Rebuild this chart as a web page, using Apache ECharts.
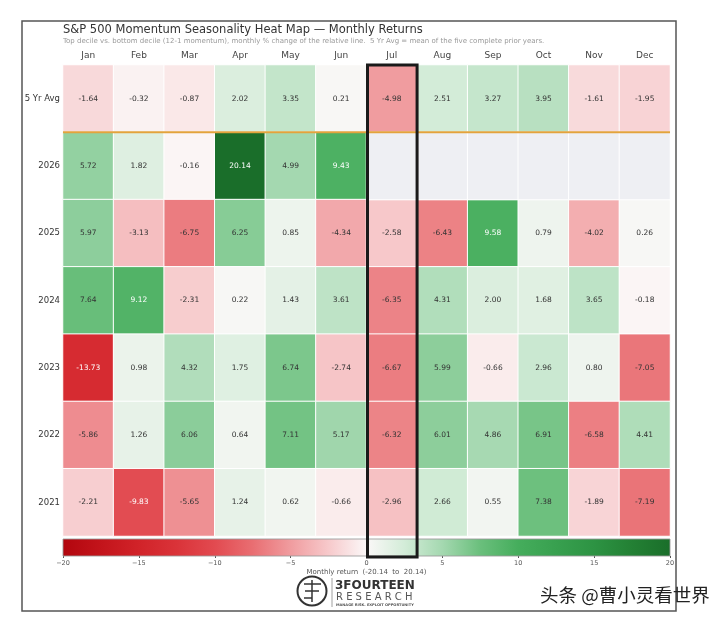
<!DOCTYPE html>
<html><head><meta charset="utf-8">
<script src="https://cdn.jsdelivr.net/npm/echarts@6/dist/echarts.min.js"></script>
<style>html,body{margin:0;padding:0;background:#fff}#c{width:728px;height:622px}</style>
</head><body><div id="c"></div>
<script>
const months = ['Jan','Feb','Mar','Apr','May','Jun','Jul','Aug','Sep','Oct','Nov','Dec'];
const rows = ['5 Yr Avg','2026','2025','2024','2023','2022','2021'];
const avg5  = [-1.64,-0.32,-0.87,2.02,3.35,0.21,-4.98,2.51,3.27,3.95,-1.61,-1.95];
const y2026 = [5.72,1.82,-0.16,20.14,4.99,9.43,null,null,null,null,null,null];
const y2025 = [5.97,-3.13,-6.75,6.25,0.85,-4.34,-2.58,-6.43,9.58,0.79,-4.02,0.26];
const y2024 = [7.64,9.12,-2.31,0.22,1.43,3.61,-6.35,4.31,2.00,1.68,3.65,-0.18];
const y2023 = [-13.73,0.98,4.32,1.75,6.74,-2.74,-6.67,5.99,-0.66,2.96,0.80,-7.05];
const y2022 = [-5.86,1.26,6.06,0.64,7.11,5.17,-6.32,6.01,4.86,6.91,-6.58,4.41];
const y2021 = [-2.21,-9.83,-5.65,1.24,0.62,-0.66,-2.96,2.66,0.55,7.38,-1.89,-7.19];
const colorTicks = [-20,-15,-10,-5,0,5,10,15,20];
const rangeMin = -20, rangeMax = 20;
const palette = ['#b2060e','#c3141b','#d12329','#da3339','#e24a50','#e96e72','#f09c9f','#f7c9cb','#fbf8f8',
                 '#d3ecd8','#a4d8b0','#6abf7c','#45ad5c','#38a04f','#2d9343','#238034','#1a6e2a'];

const table = [avg5,y2026,y2025,y2024,y2023,y2022,y2021];
const cells = [], empty = [];
table.forEach((arr, r) => arr.forEach((v, c) => {
  if (v === null) empty.push([c, r, 0]);
  else cells.push({value:[c, r, v], label:{color: Math.abs(v) >= 9 ? '#ffffff' : '#333333'}});
}));

const FONT = 'DejaVu Sans';
const chart = echarts.init(document.getElementById('c'), null, {renderer:'canvas'});
chart.setOption({
  backgroundColor:'#fff',
  textStyle:{fontFamily:FONT},
  animation:false,
  grid:[
    {left:63, top:65, width:607, height:471},
    {left:63, top:539, width:607, height:17}
  ],
  xAxis:[
    {type:'category', data:months, position:'top', gridIndex:0,
     axisLine:{show:false}, axisTick:{show:false}, splitLine:{show:false},
     axisLabel:{fontSize:9, color:'#444', margin:5, fontFamily:FONT}},
    {type:'value', gridIndex:1, min:rangeMin, max:rangeMax, interval:5,
     axisLine:{show:false}, splitLine:{show:false},
     axisTick:{show:true, length:2, lineStyle:{color:'#555'}},
     axisLabel:{fontSize:6.5, color:'#555', margin:4, fontFamily:FONT,
       formatter:v => String(v).replace('-', '\u2212')},
     name:'Monthly return  (-20.14  to  20.14)', nameLocation:'middle', nameGap:13,
     nameTextStyle:{fontSize:7, color:'#555', fontFamily:FONT}}
  ],
  yAxis:[
    {type:'category', data:rows, inverse:true, gridIndex:0,
     axisLine:{show:false}, axisTick:{show:false}, splitLine:{show:false},
     axisLabel:{fontSize:8.5, color:'#333', margin:3, fontFamily:FONT}},
    {type:'value', gridIndex:1, min:0, max:1, show:false}
  ],
  visualMap:{show:false, type:'continuous', min:rangeMin, max:rangeMax, seriesIndex:0, dimension:2,
    inRange:{color:palette}},
  series:[
    {type:'heatmap', xAxisIndex:0, yAxisIndex:0, data:cells,
     itemStyle:{borderColor:'#ffffff', borderWidth:1},
     label:{show:true, fontSize:7.5, fontFamily:FONT, formatter:p => p.value[2].toFixed(2)}},
    {type:'heatmap', xAxisIndex:0, yAxisIndex:0, data:empty,
     itemStyle:{color:'#eeeff3', borderColor:'#ffffff', borderWidth:1}, label:{show:false}},
    {type:'custom', xAxisIndex:1, yAxisIndex:1, data:[[rangeMin, rangeMax]],
     renderItem:function(params, api){
       const p0 = api.coord([api.value(0), 1]);
       const p1 = api.coord([api.value(1), 0]);
       const stops = palette.map((c,i)=>({offset:i/(palette.length-1), color:c}));
       return {type:'rect', shape:{x:p0[0], y:p0[1], width:p1[0]-p0[0], height:p1[1]-p0[1]},
         style:{fill:new echarts.graphic.LinearGradient(0,0,1,0,stops), stroke:'#999', lineWidth:0.5}};
     }}
  ]
});

// overlays positioned through the axes
const xc = m => chart.convertToPixel({xAxisIndex:0}, m);
const yc = r => chart.convertToPixel({yAxisIndex:0}, r);
const bandW = xc('Feb') - xc('Jan');
const bandH = yc('2026') - yc('5 Yr Avg');
const julL = xc('Jul') - bandW/2, julR = xc('Jul') + bandW/2;
const top0 = yc('5 Yr Avg') - bandH/2;
const sepY = yc('5 Yr Avg') + bandH/2;
const leftX = xc('Jan') - bandW/2, rightX = xc('Dec') + bandW/2;
const cbBottom = chart.convertToPixel({yAxisIndex:1}, 0);

chart.setOption({graphic:[
  {type:'rect', shape:{x:22, y:21, width:654, height:590}, style:{fill:null, stroke:'#555', lineWidth:1.5}, z:-1},
  {type:'text', left:63, top:24, style:{text:'S&P 500 Momentum Seasonality Heat Map — Monthly Returns', font:'11.5px "DejaVu Sans"', fill:'#333'}},
  {type:'text', left:63, top:37.5, style:{text:'Top decile vs. bottom decile (12-1 momentum), monthly % change of the relative line.  5 Yr Avg = mean of the five complete prior years.', font:'7px "DejaVu Sans"', fill:'#999'}},
  {type:'line', shape:{x1:leftX, y1:sepY, x2:rightX, y2:sepY}, style:{stroke:'#e3a33c', lineWidth:2}, z:50},
  {type:'rect', shape:{x:julL+1, y:top0, width:julR-julL-1, height:cbBottom-top0+1}, style:{fill:null, stroke:'#1a1a1a', lineWidth:3}, z:60},
  // logo
  {type:'circle', shape:{cx:312, cy:591, r:14.5}, style:{fill:null, stroke:'#333', lineWidth:2}},
  {type:'line', shape:{x1:312, y1:580, x2:312, y2:602}, style:{stroke:'#333', lineWidth:1.5}},
  {type:'polyline', shape:{points:[[304,584],[312,584]]}, style:{stroke:'#333', lineWidth:1.5}},
  {type:'polyline', shape:{points:[[305,591],[312,591]]}, style:{stroke:'#333', lineWidth:1.5}},
  {type:'polyline', shape:{points:[[304,598],[312,598]]}, style:{stroke:'#333', lineWidth:1.5}},
  {type:'polyline', shape:{points:[[312,584],[321,584]]}, style:{stroke:'#333', lineWidth:1.5}},
  {type:'polyline', shape:{points:[[312,591],[319,591]]}, style:{stroke:'#333', lineWidth:1.5}},
  {type:'line', shape:{x1:332, y1:578, x2:332, y2:607}, style:{stroke:'#888', lineWidth:0.8}},
  {type:'text', left:335, top:579.5, style:{text:'3FOURTEEN', font:'bold 12px "DejaVu Sans"', fill:'#333'}},
  {type:'text', left:336, top:592, style:{text:'R E S E A R C H', font:'10px "DejaVu Sans"', fill:'#555'}},
  {type:'text', left:336, top:603, style:{text:'MANAGE RISK. EXPLOIT OPPORTUNITY', font:'bold 3.6px "DejaVu Sans"', fill:'#555'}},
  {type:'text', left:540, top:586, style:{text:'头条 @曹小灵看世界', font:'18.5px "Noto Sans CJK SC"', fill:'#222'}, z:70}
]});
</script>
</body></html>
